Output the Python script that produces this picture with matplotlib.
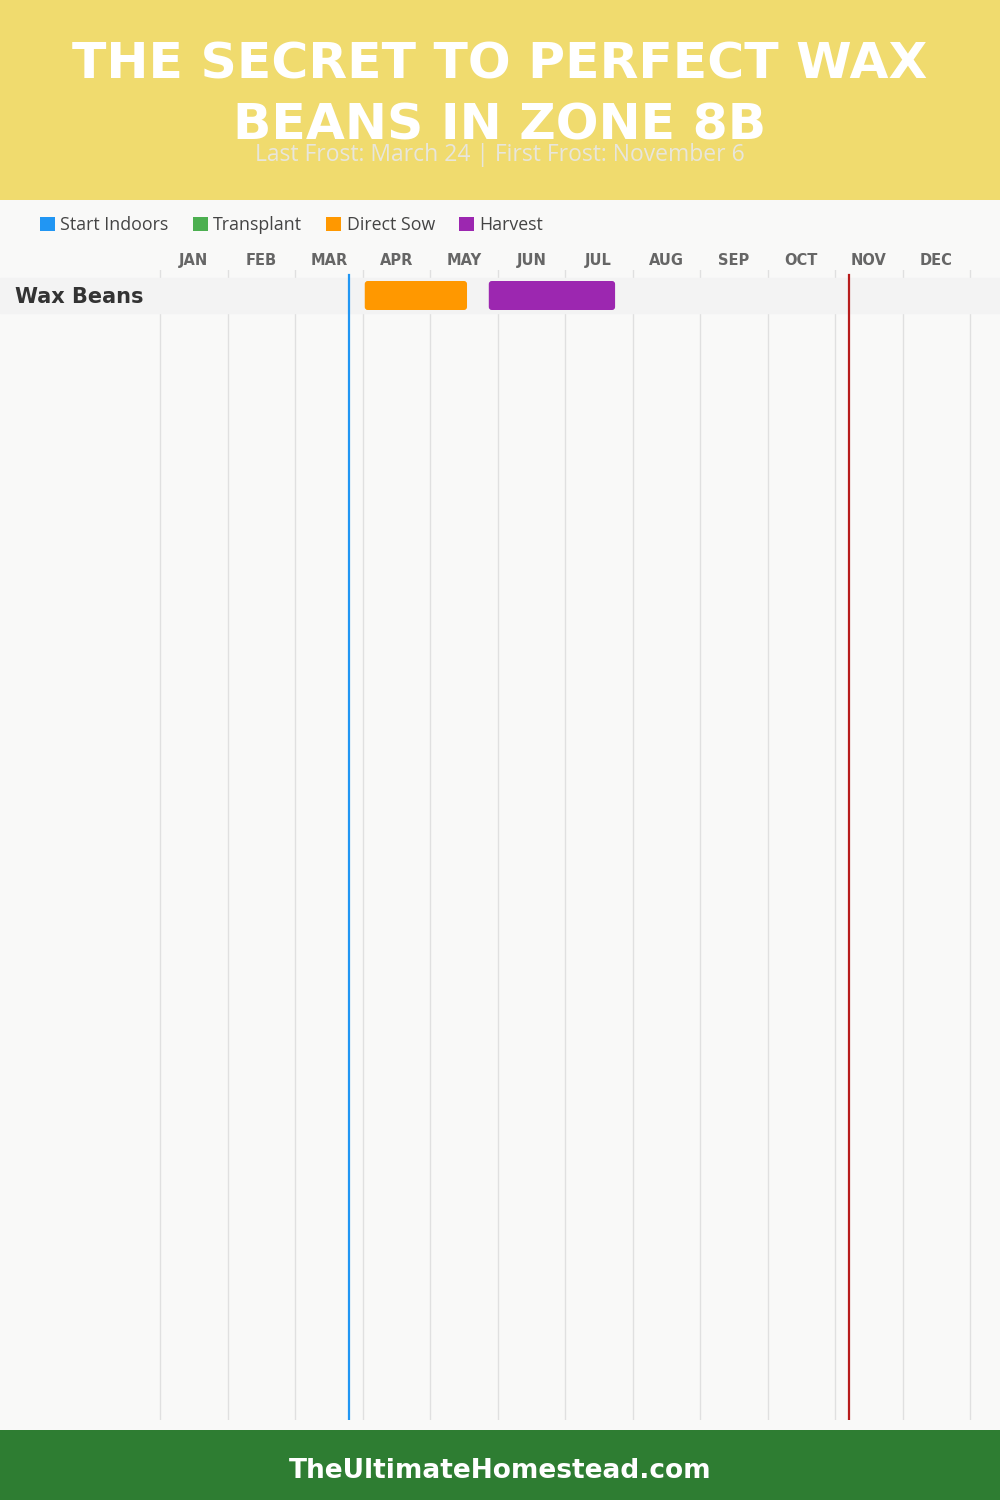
import matplotlib
matplotlib.use("Agg")
import matplotlib.pyplot as plt
from matplotlib.patches import FancyBboxPatch, Patch, Rectangle

plt.rcParams['font.family'] = ['DejaVu Sans']

# ---- data ----
title = "THE SECRET TO PERFECT WAX\nBEANS IN ZONE 8B"
subtitle = "Last Frost: March 24 | First Frost: November 6"
footer = "TheUltimateHomestead.com"
months = ["JAN", "FEB", "MAR", "APR", "MAY", "JUN", "JUL", "AUG", "SEP", "OCT", "NOV", "DEC"]
days_in_month = [31, 28, 31, 30, 31, 30, 31, 31, 30, 31, 30, 31]
legend_labels = ["Start Indoors", "Transplant", "Direct Sow", "Harvest"]
legend_colors = ["#2196f3", "#4caf50", "#ff9800", "#9c27b0"]
crops = ["Wax Beans"]
phase_crop = [0, 0]
phase_name = ["Direct Sow", "Harvest"]
phase_start = [(4, 1), (5, 27)]
phase_end = [(5, 17), (7, 23)]
last_frost = (3, 24)
first_frost = (11, 6)


def pos(md):
    m, d = md
    return (m - 1) + d / days_in_month[m - 1]


W, H = 1000, 1500
fig = plt.figure(figsize=(W / 100, H / 100), dpi=100)
fig.patch.set_facecolor("#f9f9f8")

fig.patches.append(Rectangle((0, 1 - 200 / H), 1, 200 / H, transform=fig.transFigure,
                             facecolor="#f0db6e", edgecolor="none", zorder=0))
fig.patches.append(Rectangle((0, 0), 1, 70 / H, transform=fig.transFigure,
                             facecolor="#2e7d32", edgecolor="none", zorder=0))

fig.text(0.5, 1 - 95 / H, title, ha="center", va="center", color="white",
         fontsize=36.3, fontweight="heavy", linespacing=1.33)
fig.text(0.5, 1 - 155 / H, subtitle, ha="center", va="center", color="#e8e6dc",
         fontsize=16.5, family=["Open Sans", "DejaVu Sans"])
fig.text(0.5, 1 - 1471 / H, footer, ha="center", va="center", color="white",
         fontsize=19, fontweight="bold")

handles = [Patch(facecolor=c, edgecolor="none") for c in legend_colors]
fig.legend(handles, legend_labels, loc="center left", bbox_to_anchor=(24 / W, 1 - 225 / H),
           ncol=4, frameon=False, handlelength=0.85, handleheight=0.85, handletextpad=0.3,
           columnspacing=1.35, labelcolor="#444444",
           prop={"family": ["Open Sans", "DejaVu Sans"], "size": 12.8})

top_px, bot_px = 270, 1420
ax = fig.add_axes([0, 1 - bot_px / H, 1, (bot_px - top_px) / H])
ax.set_facecolor("none")
mw = 810 / 12
ax.set_xlim(-160 / mw, 12 + 30 / mw)
row_h = 35
row0_top = 278
ax.set_ylim((bot_px - row0_top) / row_h - 0.5, -0.5 - (row0_top - top_px) / row_h)
for s in ax.spines.values():
    s.set_visible(False)

ax.set_xticks([i + 0.5 for i in range(12)])
ax.set_xticklabels(months)
ax.xaxis.tick_top()
ax.tick_params(axis="x", length=0, pad=1.5, labelsize=10.5, labelcolor="#666666")
for t in ax.get_xticklabels():
    t.set_fontweight("bold")
ax.set_yticks([])

for i in range(13):
    ax.axvline(i, color="#e0e0e0", lw=1, zorder=1)

for r, name in enumerate(crops):
    ax.axhspan(r - 0.5, r + 0.5, color="#f3f3f3", zorder=2)
    ax.text(-160 / mw + 15 / mw, r + 0.03, name, ha="left", va="center", fontsize=15,
            fontweight="bold", color="#333333", zorder=5)

color_of = dict(zip(legend_labels, legend_colors))
bh = 29 / 35
for ci, ph, s, e in zip(phase_crop, phase_name, phase_start, phase_end):
    x0, x1 = pos(s), pos(e)
    p = FancyBboxPatch((x0, ci - bh / 2), x1 - x0, bh,
                       boxstyle="round,pad=0,rounding_size=0.045",
                       mutation_aspect=mw / row_h,
                       facecolor=color_of[ph], edgecolor="none", zorder=4)
    ax.add_patch(p)

ax.axvline(pos(last_frost) + 0.025, ymax=1 - 5 / (bot_px - top_px), color="#2196f3", lw=1.6, zorder=6)
ax.axvline(pos(first_frost), ymax=1 - 5 / (bot_px - top_px), color="#b71c1c", lw=1.6, zorder=6)

fig.savefig("out.png", dpi=100, facecolor=fig.get_facecolor())
